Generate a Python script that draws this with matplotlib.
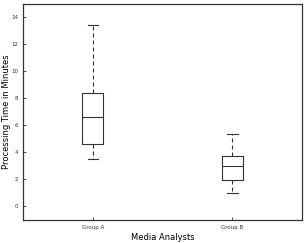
import matplotlib
matplotlib.use('Agg')
import matplotlib.pyplot as plt

groups = ['Group A', 'Group B']
whislo = [3.5, 1.0]
q1 = [4.6, 1.97]
med = [6.65, 3.02]
q3 = [8.4, 3.7]
whishi = [13.4, 5.4]

stats = []
for i in range(len(groups)):
    stats.append({'label': groups[i], 'whislo': whislo[i], 'q1': q1[i],
                  'med': med[i], 'q3': q3[i], 'whishi': whishi[i], 'fliers': []})

fig = plt.figure(figsize=(3.07, 2.43), dpi=100)
ax = fig.add_axes([0.075, 0.095, 0.909, 0.889])
col = '#333333'
ax.bxp(stats, positions=[1, 2], widths=0.15,
       boxprops=dict(color=col, linewidth=0.8),
       whiskerprops=dict(color=col, linewidth=0.8, linestyle=(0, (3.6, 2.7))),
       capprops=dict(color=col, linewidth=0.8),
       medianprops=dict(color=col, linewidth=0.8),
       showfliers=False)
ax.set_xlim(0.5, 2.5)
ax.set_ylim(-1, 15)
ax.set_yticks(range(0, 15, 2))
ax.tick_params(direction='in', labelsize=4, length=2, width=0.6, colors='#333333')
ax.tick_params(top=False, right=False)
for s in ax.spines.values():
    s.set_linewidth(0.9)
    s.set_color('#333333')
ax.set_xlabel('Media Analysts', fontsize=6, labelpad=2)
ax.set_ylabel('Processing Time in Minutes', fontsize=6)
ax.yaxis.set_label_coords(-0.042, 0.5)
fig.savefig('out.png', dpi=100)
